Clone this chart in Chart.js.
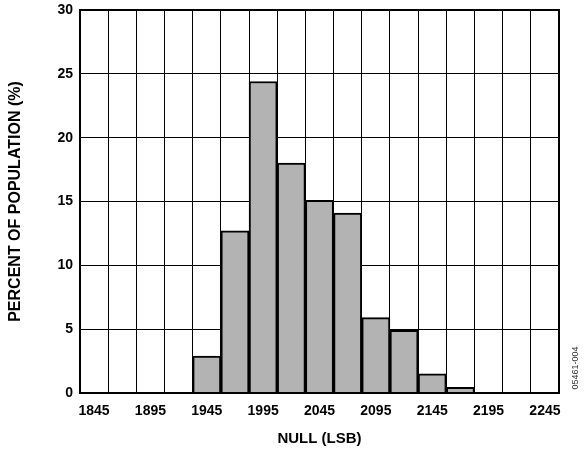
<!DOCTYPE html>
<html>
<head>
<meta charset="utf-8">
<script src="https://cdn.jsdelivr.net/npm/chart.js@4"></script>
<style>
  html, body { margin: 0; padding: 0; background: #fff; }
  #wrap { width: 585px; height: 456px; }
</style>
</head>
<body>
<div id="wrap"><canvas id="histChart"></canvas></div>
<script>
// bins of 25 LSB, centred on the labels
var bins = ['1845', '1870', '1895', '1920', '1945', '1970', '1995', '2020', '2045',
            '2070', '2095', '2120', '2145', '2170', '2195', '2220', '2245'];
var percent = [0, 0, 0, 0, 2.9, 12.7, 24.4, 18.0, 15.1, 14.1, 5.9, 4.9, 1.5, 0.45, 0, 0, 0];
var yTicks = [0, 5, 10, 15, 20, 25, 30];

// frame round the plot + figure code on the right
var framePlugin = {
  id: 'frame',
  afterDraw: function (chart) {
    var ctx = chart.ctx, a = chart.chartArea;
    ctx.save();
    ctx.strokeStyle = '#000';
    ctx.lineWidth = 2;
    ctx.strokeRect(a.left, a.top, a.right - a.left, a.bottom - a.top);
    ctx.translate(576, 368);
    ctx.rotate(-Math.PI / 2);
    ctx.fillStyle = '#333';
    ctx.font = '9px "Liberation Sans", Arial, sans-serif';
    ctx.textAlign = 'center';
    ctx.textBaseline = 'middle';
    ctx.fillText('05461-004', 0, 0);
    ctx.restore();
  }
};

var ctx = document.getElementById('histChart').getContext('2d');
var histChart = new Chart(ctx, {
  type: 'bar',
  data: {
    labels: bins,
    datasets: [{
      data: percent,
      backgroundColor: '#b3b3b3',
      borderColor: '#000',
      borderWidth: 2,
      barPercentage: 1,
      categoryPercentage: 1
    }]
  },
  options: {
    responsive: true,
    maintainAspectRatio: false,
    animation: false,
    layout: { padding: { top: 10, right: 26, bottom: 0, left: 0 } },
    plugins: { legend: { display: false }, tooltip: { enabled: false } },
    scales: {
      x: {
        grid: { color: '#000', lineWidth: 1, drawTicks: false, offset: true },
        border: { color: '#000', width: 2 },
        ticks: {
          autoSkip: false,
          maxRotation: 0,
          padding: 10,
          color: '#000',
          font: { family: '"Liberation Sans", Arial, sans-serif', size: 14, weight: 'bold' },
          callback: function (v, i) { return i % 2 === 0 ? bins[i] : ''; }
        },
        title: {
          display: true,
          text: 'NULL (LSB)',
          color: '#000',
          padding: { top: 6, bottom: 8 },
          font: { family: '"Liberation Sans", Arial, sans-serif', size: 15, weight: 'bold' }
        },
        afterFit: function (s) { s.height = 63; s.paddingLeft = 0; s.paddingRight = 0; }
      },
      y: {
        min: 0,
        max: 30,
        grid: { color: '#000', lineWidth: 1, drawTicks: false },
        border: { color: '#000', width: 2 },
        afterBuildTicks: function (s) { s.ticks = yTicks.map(function (v) { return { value: v }; }); },
        ticks: {
          padding: 7,
          color: '#000',
          font: { family: '"Liberation Sans", Arial, sans-serif', size: 14, weight: 'bold' }
        },
        title: {
          display: true,
          text: 'PERCENT OF POPULATION (%)',
          color: '#000',
          padding: { top: 6, bottom: 0 },
          font: { family: '"Liberation Sans", Arial, sans-serif', size: 16, weight: 'bold' }
        },
        afterFit: function (s) { s.width = 80; s.paddingTop = 0; s.paddingBottom = 0; }
      }
    }
  },
  plugins: [framePlugin]
});
</script>
</body>
</html>
